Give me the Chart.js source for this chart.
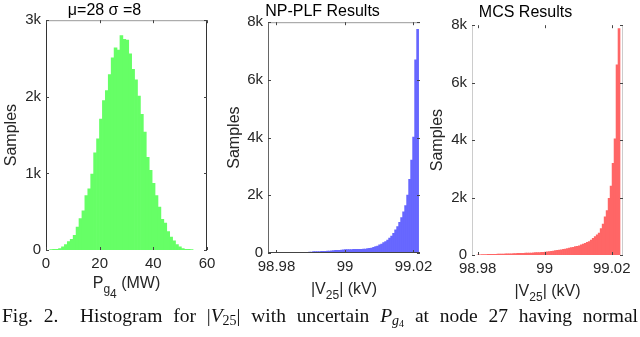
<!DOCTYPE html>
<html>
<head>
<meta charset="utf-8">
<script src="https://cdn.jsdelivr.net/npm/chart.js@4/dist/chart.umd.min.js"></script>
<style>
  html, body { margin: 0; padding: 0; background: #fff; }
  body { width: 640px; height: 337px; overflow: hidden; position: relative; font-family: "Liberation Sans", Arial, sans-serif; }
  canvas { position: absolute; top: 0; }
  .xt { position: absolute; font-size: 16px; line-height: 16px; color: #262626; white-space: nowrap; text-align: center; }
  .xt sub { font-size: 12px; vertical-align: -5px; line-height: 0; }
  #caption { position: absolute; left: 2px; top: 307px; width: 636px; font-family: "Liberation Serif", "Times New Roman", serif;
             font-size: 19.5px; line-height: 18px; color: #111; text-align: justify; text-align-last: justify; white-space: nowrap; }
  #caption sub { font-size: 14px; vertical-align: -3px; line-height: 0; }
  #caption sub sub { font-size: 10px; vertical-align: -2px; }
</style>
</head>
<body>
<canvas id="c1" width="222" height="300" style="left:0px"></canvas>
<canvas id="c2" width="225" height="300" style="left:215px"></canvas>
<canvas id="c3" width="215" height="300" style="left:425px"></canvas>

<div class="xt" style="left:46px;width:161px;top:275px">P<sub>g<sub>4</sub></sub> (MW)</div>
<div class="xt" style="left:268px;width:152px;top:281px">|V<sub>25</sub>| (kV)</div>
<div class="xt" style="left:472px;width:151px;top:283px">|V<sub>25</sub>| (kV)</div>

<div id="caption">Fig. 2. &nbsp;Histogram for |<i>V</i><sub>25</sub>| with uncertain <i>P</i><sub><i>g</i><sub>4</sub></sub> at node 27 having normal</div>

<script>
// left panel: input P_g4 (MW), normal with mu=28, sigma=8
const pgBinStart = 1.4;
const pgBinWidth = 1.09;
const pgCounts = [5, 8, 10, 20, 40, 70, 110, 140, 190, 300, 410, 510, 710,
  800, 990, 1270, 1450, 1710, 1950, 2080, 2290, 2510, 2640, 2610, 2800,
  2750, 2740, 2560, 2360, 2220, 2010, 1770, 1540, 1210, 1040, 870, 710,
  560, 400, 350, 240, 170, 120, 70, 40, 20, 10, 8, 5];
const pgTicks = [0, 20, 40, 60];
const pgTickLabels = ['0', '20', '40', '60'];

// middle panel: |V25| from NP-PLF
const npBinStart = 98.98529;
const npBinWidth = 0.000584;
const npCounts = [10, 5, 8, 10, 12, 15, 20, 30, 30, 45,
  50, 50, 50, 55, 55, 60, 70, 70, 75, 80,
  90, 90, 90, 100, 110, 120, 120, 120, 120, 125,
  130, 130, 130, 130, 135, 140,
  150, 160, 170, 200, 220, 240, 280, 310, 360, 400, 450, 520, 590, 680,
  800, 920, 1060, 1230, 1430, 1640, 2010, 2550, 3220, 4020, 6700, 7750];

// right panel: |V25| from MCS
const mcsBinStart = 98.97982;
const mcsBinWidth = 0.0005925;
const mcsCounts = [10, 10, 12, 12, 15, 20, 20, 20, 25, 25, 30, 30, 35, 35,
  40, 40, 45, 45, 50, 50, 55, 55, 60, 60, 65, 65, 70,
  70, 75, 80, 80, 85, 90, 95, 100, 110, 120, 130, 140, 150, 160, 170,
  180, 200, 210, 220, 240, 260, 270, 290, 300, 320, 350, 380, 410, 440,
  470, 520, 580, 640, 700, 760, 920, 1080, 1330, 1550, 1970, 2400, 3190,
  4040, 6620, 7880];

const vTicks = [98.98, 99, 99.02];
const vTickLabels = ['98.98', '99', '99.02'];

const FONT = '"Liberation Sans", Arial, sans-serif';
const TXT = '#262626';

// matlab-like box: edge lines and inward tick marks
const boxAxes = {
  id: 'boxAxes',
  afterDatasetsDraw(chart, args, o) {
    const { ctx, chartArea: a, scales: { x, y } } = chart;
    ctx.save();
    ctx.lineWidth = 1;
    const seg = (c, x1, y1, x2, y2) => {
      if (!c) return;
      ctx.strokeStyle = c;
      ctx.beginPath(); ctx.moveTo(x1, y1); ctx.lineTo(x2, y2); ctx.stroke();
    };
    seg(o.left, a.left + 0.5, a.top, a.left + 0.5, a.bottom);
    seg(o.right, a.right - 0.5, a.top, a.right - 0.5, a.bottom);
    seg(o.top, a.left, a.top + 0.5, a.right, a.top + 0.5);
    seg(o.bottom, a.left, a.bottom - 0.5, a.right, a.bottom - 0.5);
    x.ticks.forEach(t => {
      const px = Math.round(x.getPixelForValue(t.value)) + 0.5;
      seg(o.tick, px, a.bottom, px, a.bottom - 3);
      seg(o.tick, px, a.top, px, a.top + 3);
    });
    y.ticks.forEach(t => {
      const py = Math.round(y.getPixelForValue(t.value)) + 0.5;
      seg(o.tick, a.left, py, a.left + 3, py);
      seg(o.tick, a.right, py, a.right - 3, py);
    });
    ctx.restore();
  }
};

function histChart(id, o) {
  const bars = o.counts.map((c, i) => ({ x: o.start + o.width * (i + 0.5), y: c }));
  return new Chart(document.getElementById(id), {
    type: 'bar',
    data: {
      datasets: [{
        data: bars,
        backgroundColor: o.color,
        borderWidth: 0,
        barPercentage: 1,
        categoryPercentage: 1
      }]
    },
    options: {
      responsive: false,
      animation: false,
      layout: { padding: o.pad },
      plugins: {
        legend: { display: false },
        tooltip: { enabled: false },
        title: {
          display: true, text: o.title, color: '#000',
          font: { family: FONT, size: 16, weight: 'normal' },
          padding: o.titlePad
        },
        boxAxes: o.box
      },
      scales: {
        x: {
          type: 'linear', min: o.xMin, max: o.xMax, offset: false,
          grid: { display: false, drawTicks: false, offset: false },
          border: { display: false },
          afterBuildTicks: s => { s.ticks = o.xTicks.map(v => ({ value: v })); },
          afterFit: s => { s.height = o.xH; },
          ticks: {
            callback: (v, i) => o.xLabels[i],
            autoSkip: false, maxRotation: 0, padding: 5,
            color: TXT, font: { family: FONT, size: 15 }
          }
        },
        y: {
          min: 0, max: o.yMax,
          grid: { display: false, drawTicks: false },
          border: { display: false },
          afterFit: s => { s.width = o.yW; },
          ticks: {
            stepSize: o.yStep, padding: 5,
            callback: v => (v === 0 ? '0' : v / 1000 + 'k'),
            color: TXT, font: { family: FONT, size: 15 }
          },
          title: {
            display: true, text: 'Samples', color: TXT, padding: 0,
            font: { family: FONT, size: 16 }
          }
        }
      }
    },
    plugins: [boxAxes]
  });
}

histChart('c1', {
  counts: pgCounts, start: pgBinStart, width: pgBinWidth, color: '#66ff66',
  title: 'μ=28 σ =8', titlePad: { top: 1, bottom: 0 },
  pad: { left: 2, right: 15, top: 0, bottom: 0 }, yW: 44, xH: 50,
  xMin: 0, xMax: 60, xTicks: pgTicks, xLabels: pgTickLabels,
  yMax: 3000, yStep: 1000,
  box: { left: '#333', right: '#333', top: '#999', bottom: null, tick: '#444' }
});

histChart('c2', {
  counts: npCounts, start: npBinStart, width: npBinWidth, color: '#6666ff',
  title: 'NP-PLF Results', titlePad: { top: 2, bottom: 1 },
  pad: { left: 10, right: 20, top: 0, bottom: 0 }, yW: 43, xH: 47,
  xMin: 98.97752, xMax: 99.0219, xTicks: vTicks, xLabels: vTickLabels,
  yMax: 8000, yStep: 2000,
  box: { left: '#666', right: null, top: '#999', bottom: '#444', tick: '#444' }
});

histChart('c3', {
  counts: mcsCounts, start: mcsBinStart, width: mcsBinWidth, color: '#ff6666',
  title: 'MCS Results', titlePad: { top: 3, bottom: 3 },
  pad: { left: 3, right: 17, top: 0, bottom: 0 }, yW: 44, xH: 45,
  xMin: 98.9783, xMax: 99.02337, xTicks: vTicks, xLabels: vTickLabels,
  yMax: 8000, yStep: 2000,
  box: { left: '#ccc', right: '#ccc', top: null, bottom: null, tick: '#444' }
});
</script>
</body>
</html>
